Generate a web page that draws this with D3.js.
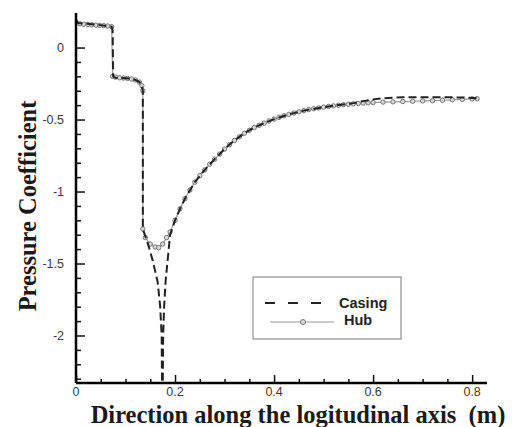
<!DOCTYPE html>
<meta charset="utf-8">
<head>
    <title>Pressure Coefficient</title>
    <script src="https://d3js.org/d3.v7.min.js"></script>
</head>

<style>
body { margin: 0; background: #fff; }
.tick-label { font-family: "Liberation Sans", Arial, sans-serif; font-size: 12.5px; fill: #3a3a3a; }
.axis-title { font-family: "Liberation Serif", "Times New Roman", serif; font-weight: bold; font-size: 24.5px; fill: #1a1a1a; }
.legend-text { font-family: "Liberation Sans", Arial, sans-serif; font-weight: bold; font-size: 14.5px; fill: #222; }
</style>

<body>

<svg></svg>

<script>

// casing (dashed) - x in m, Cp
let casingX = [0, 0.004, 0.04, 0.072, 0.074, 0.075, 0.08, 0.11, 0.12, 0.128, 0.133, 0.135, 0.135,
  0.145, 0.155, 0.165, 0.17, 0.173, 0.174, 0.175, 0.176, 0.178, 0.181, 0.185, 0.19, 0.2, 0.21, 0.22,
  0.24, 0.26, 0.28, 0.30, 0.32, 0.34, 0.36, 0.38, 0.40, 0.43, 0.46, 0.50, 0.53, 0.56, 0.58, 0.60,
  0.62, 0.64, 0.66, 0.70, 0.74, 0.78, 0.80, 0.81];
let casingY = [0.19, 0.17, 0.16, 0.145, 0.12, -0.2, -0.21, -0.215, -0.225, -0.24, -0.265, -0.3, -1.26,
  -1.36, -1.48, -1.63, -1.8, -2.0, -2.45, -2.45, -2.0, -1.8, -1.62, -1.48, -1.3, -1.2, -1.12, -1.05,
  -0.935, -0.85, -0.775, -0.705, -0.645, -0.595, -0.555, -0.525, -0.497, -0.464, -0.438, -0.414, -0.399, -0.386, -0.372, -0.36,
  -0.352, -0.348, -0.346, -0.345, -0.345, -0.347, -0.35, -0.352];

// hub (solid + circles)
let hubX = [0, 0.008, 0.016, 0.024, 0.032, 0.04, 0.048, 0.056, 0.064, 0.072, 0.074, 0.08, 0.088, 0.096,
  0.104, 0.112, 0.12, 0.128, 0.133, 0.135, 0.135, 0.14, 0.15, 0.16, 0.167, 0.175, 0.183, 0.19, 0.2,
  0.21, 0.22, 0.23, 0.24, 0.25, 0.26, 0.27, 0.28, 0.29, 0.30, 0.31, 0.32, 0.33, 0.34, 0.35, 0.36,
  0.37, 0.38, 0.39, 0.40, 0.41, 0.42, 0.43, 0.44, 0.45, 0.46, 0.47, 0.48, 0.49, 0.50, 0.51, 0.52,
  0.53, 0.54, 0.55, 0.56, 0.57, 0.58, 0.59, 0.60, 0.62, 0.64, 0.66, 0.68, 0.70, 0.72, 0.74, 0.76,
  0.78, 0.80, 0.81];
let hubY = [0.18, 0.165, 0.162, 0.16, 0.158, 0.156, 0.154, 0.152, 0.15, 0.145, -0.2, -0.205, -0.21, -0.212,
  -0.214, -0.218, -0.225, -0.24, -0.265, -0.3, -1.26, -1.32, -1.365, -1.385, -1.39, -1.365, -1.32, -1.28, -1.2,
  -1.12, -1.05, -0.99, -0.935, -0.89, -0.85, -0.81, -0.775, -0.74, -0.705, -0.675, -0.645, -0.62, -0.595, -0.575, -0.555,
  -0.54, -0.525, -0.51, -0.497, -0.485, -0.474, -0.464, -0.455, -0.446, -0.438, -0.431, -0.425, -0.419, -0.414, -0.409, -0.405,
  -0.401, -0.397, -0.394, -0.391, -0.388, -0.386, -0.384, -0.382, -0.379, -0.377, -0.375, -0.373, -0.371, -0.369, -0.366, -0.363,
  -0.36, -0.356, -0.355];

let xMajor = [0, 0.2, 0.4, 0.6, 0.8];
let xLabels = ["0", "0.2", "0.4", "0.6", "0.8"];
let yMajor = [0, -0.5, -1, -1.5, -2];
let yLabels = ["0", "-0.5", "-1", "-1.5", "-2"];

let width = 512, height = 427;

let svg = d3.select("svg")
    .attr("width", width)
    .attr("height", height);

// scales (axis frame: left 76, right 487, top 13, bottom 383)
let x = d3.scaleLinear().domain([0, 0.83]).range([76, 487]);
let y = d3.scaleLinear().domain([-2.33, 0.24]).range([383, 13]);

svg.append("clipPath").attr("id", "plotClip")
  .append("rect")
  .attr("x", x(0)).attr("y", 0)
  .attr("width", x(0.83) - x(0)).attr("height", y(-2.33));

let casing = d3.zip(casingX, casingY);
let hub = d3.zip(hubX, hubY);

let line = d3.line()
  .x(function(d) { return x(d[0]); })
  .y(function(d) { return y(d[1]); });

let plot = svg.append("g").attr("clip-path", "url(#plotClip)");

// hub line + markers
plot.append("path")
  .datum(hub)
  .attr("d", line)
  .attr("fill", "none")
  .attr("stroke", "#9a9a9a")
  .attr("stroke-width", 1.2);

plot.selectAll(".hubpt")
  .data(hub)
  .enter()
  .append("circle")
  .attr("class", "hubpt")
  .attr("cx", function(d) { return x(d[0]); })
  .attr("cy", function(d) { return y(d[1]); })
  .attr("r", 2.2)
  .attr("fill", "#d8d8d8")
  .attr("stroke", "#777")
  .attr("stroke-width", 1);

// casing dashed
plot.append("path")
  .datum(casing)
  .attr("d", line)
  .attr("fill", "none")
  .attr("stroke", "#222")
  .attr("stroke-width", 2)
  .attr("stroke-dasharray", "8,4");

// x axis
let xAxis = svg.append("g")
  .attr("transform", "translate(0," + y(-2.33) + ")")
  .call(d3.axisBottom(x).tickValues(d3.range(0, 0.81, 0.05)).tickSize(-4).tickFormat(""));
xAxis.selectAll(".tick")
  .filter(function(d) { return xMajor.some(function(m) { return Math.abs(m - d) < 1e-6; }); })
  .select("line").attr("y2", -8);
xAxis.select(".domain").attr("stroke", "#000").attr("stroke-width", 2.5).attr("d", "M" + x(0) + ",0H" + x(0.83));
xAxis.selectAll(".tick line").attr("stroke", "#111").attr("stroke-width", 1.5);

svg.selectAll(".xlab")
  .data(xMajor)
  .enter()
  .append("text")
  .attr("class", "tick-label")
  .attr("x", function(d) { return x(d); })
  .attr("y", 396)
  .attr("text-anchor", "middle")
  .text(function(d, i) { return xLabels[i]; });

// y axis
let yAxis = svg.append("g")
  .attr("transform", "translate(" + x(0) + ",0)")
  .call(d3.axisLeft(y).tickValues(d3.range(0, -2.31, -0.1)).tickSize(-5).tickFormat(""));
yAxis.selectAll(".tick")
  .filter(function(d) { return yMajor.some(function(m) { return Math.abs(m - d) < 1e-6; }); })
  .select("line").attr("x2", 9);
yAxis.select(".domain").attr("stroke", "#000").attr("stroke-width", 2.5).attr("d", "M0," + y(-2.33) + "V" + y(0.24));
yAxis.selectAll(".tick line").attr("stroke", "#111").attr("stroke-width", 1.5);

svg.selectAll(".ylab")
  .data(yMajor)
  .enter()
  .append("text")
  .attr("class", "tick-label")
  .attr("x", 64)
  .attr("y", function(d) { return y(d); })
  .attr("dy", "0.35em")
  .attr("text-anchor", "end")
  .text(function(d, i) { return yLabels[i]; });

// axis titles
svg.append("text")
  .attr("class", "axis-title")
  .attr("x", 298)
  .attr("y", 423)
  .attr("text-anchor", "middle")
  .attr("xml:space", "preserve")
  .text("Direction along the logitudinal axis  (m)");

svg.append("text")
  .attr("class", "axis-title")
  .attr("transform", "translate(36,206) rotate(-90)")
  .attr("text-anchor", "middle")
  .text("Pressure Coefficient");

// legend
let legend = svg.append("g");
legend.append("rect")
  .attr("x", 253).attr("y", 277)
  .attr("width", 148).attr("height", 62)
  .attr("fill", "#fff")
  .attr("stroke", "#999")
  .attr("stroke-width", 1.3);

legend.append("line")
  .attr("x1", 265).attr("x2", 325)
  .attr("y1", 303).attr("y2", 303)
  .attr("stroke", "#222").attr("stroke-width", 2)
  .attr("stroke-dasharray", "10,13");

legend.append("line")
  .attr("x1", 270).attr("x2", 334)
  .attr("y1", 322).attr("y2", 322)
  .attr("stroke", "#9a9a9a").attr("stroke-width", 1.2);

legend.append("circle")
  .attr("cx", 303).attr("cy", 322).attr("r", 2.5)
  .attr("fill", "#d8d8d8").attr("stroke", "#777");

legend.append("text").attr("class", "legend-text")
  .attr("x", 339).attr("y", 308).text("Casing");
legend.append("text").attr("class", "legend-text")
  .attr("x", 344).attr("y", 325).text("Hub");

</script>

</body>
